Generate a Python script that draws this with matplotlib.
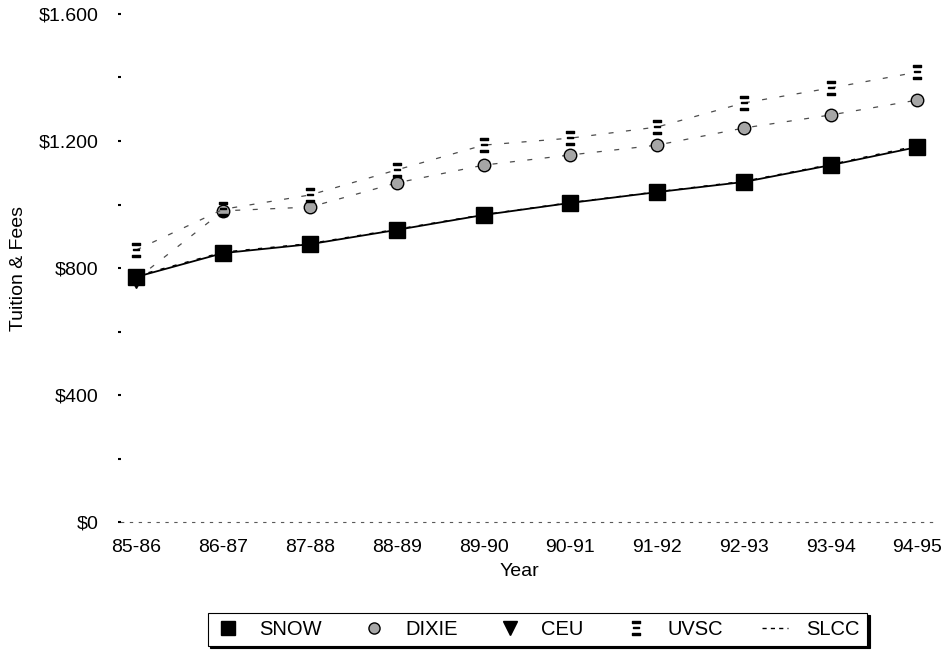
import matplotlib
matplotlib.use("Agg")
import matplotlib.pyplot as plt
from matplotlib.lines import Line2D
from matplotlib.ticker import FixedLocator, FuncFormatter

years = ["85-86", "86-87", "87-88", "88-89", "89-90", "90-91", "91-92", "92-93", "93-94", "94-95"]
snow = [772, 847, 875, 920, 967, 1005, 1039, 1071, 1124, 1181]
dixie = [765, 980, 992, 1068, 1124, 1156, 1187, 1241, 1282, 1329]
ceu = [760, 845, 873, 918, 965, 1003, 1037, 1069, 1122, 1180]
uvsc = [857, 985, 1030, 1109, 1187, 1209, 1244, 1320, 1367, 1417]
slcc = [775, 850, 877, 922, 968, 1006, 1040, 1073, 1126, 1185]

plt.rcParams["font.family"] = ["Liberation Sans", "DejaVu Sans"]

fig = plt.figure(figsize=(9.51, 6.54), dpi=100)
ax = fig.add_axes([0.127, 0.2018, 0.856, 0.7768])
x = list(range(len(years)))

ax.plot(x, slcc, color="black", linestyle=(0, (3, 6)), linewidth=1.0, zorder=2)
ax.plot(x, ceu, color="black", linestyle="none", marker="v", markersize=10, zorder=3)
ax.plot(x, snow, color="black", linestyle="-", linewidth=1.3, marker="s", markersize=11, zorder=4)
ax.plot(x, dixie, color="0.3", linestyle=(0, (4, 10)), linewidth=0.9, marker="o",
        markersize=9, markerfacecolor="0.65", markeredgecolor="black", zorder=3)
ax.plot(x, uvsc, color="0.3", linestyle=(0, (4, 10)), linewidth=0.9, marker="$\\Xi$",
        markersize=10, markerfacecolor="black", markeredgecolor="black", zorder=3)

ax.set_xlim(-0.18, 9.2)
ax.set_ylim(0, 1600)
ax.set_xticks(x)
ax.set_xticklabels(years, fontsize=14)
ax.yaxis.set_major_locator(FixedLocator([0, 400, 800, 1200, 1600]))
ax.yaxis.set_minor_locator(FixedLocator([200, 600, 1000, 1400]))
ax.yaxis.set_major_formatter(FuncFormatter(lambda v, p: f"${int(v):,}".replace(",", ".")))
ax.tick_params(axis="y", which="both", length=2, width=1.5, pad=14, labelsize=14)
ax.tick_params(axis="x", length=0, pad=12)

for side in ["top", "right", "left"]:
    ax.spines[side].set_visible(False)
ax.spines["bottom"].set_linestyle((0, (2, 6)))
ax.spines["bottom"].set_color("0.35")

ax.set_ylabel("Tuition & Fees", fontsize=14)
ax.yaxis.set_label_coords(-0.115, 0.5)
ax.set_xlabel("Year", fontsize=14)
ax.xaxis.set_label_coords(0.49, -0.08)

handles = [
    Line2D([], [], color="black", linestyle="none", marker="s", markersize=10),
    Line2D([], [], color="black", linestyle="none", marker="o", markersize=8,
           markerfacecolor="0.65", markeredgecolor="black"),
    Line2D([], [], color="black", linestyle="none", marker="v", markersize=10),
    Line2D([], [], color="black", linestyle="none", marker="$\\Xi$", markersize=10),
    Line2D([], [], color="black", linestyle=(0, (3, 3)), linewidth=1.0),
]
labels = ["SNOW", "DIXIE", "CEU", "UVSC", "SLCC"]
leg = fig.legend(handles, labels, loc="center", bbox_to_anchor=(0.565, 0.038),
                 ncol=5, fontsize=14.5, frameon=True, fancybox=False, handlelength=1.3,
                 columnspacing=1.95, handletextpad=0.9, borderpad=0.35, borderaxespad=0,
                 shadow={"color": "black", "alpha": 1.0})
leg.get_frame().set_edgecolor("black")
leg.get_frame().set_linewidth(0.8)

fig.savefig("out.png", dpi=100)
